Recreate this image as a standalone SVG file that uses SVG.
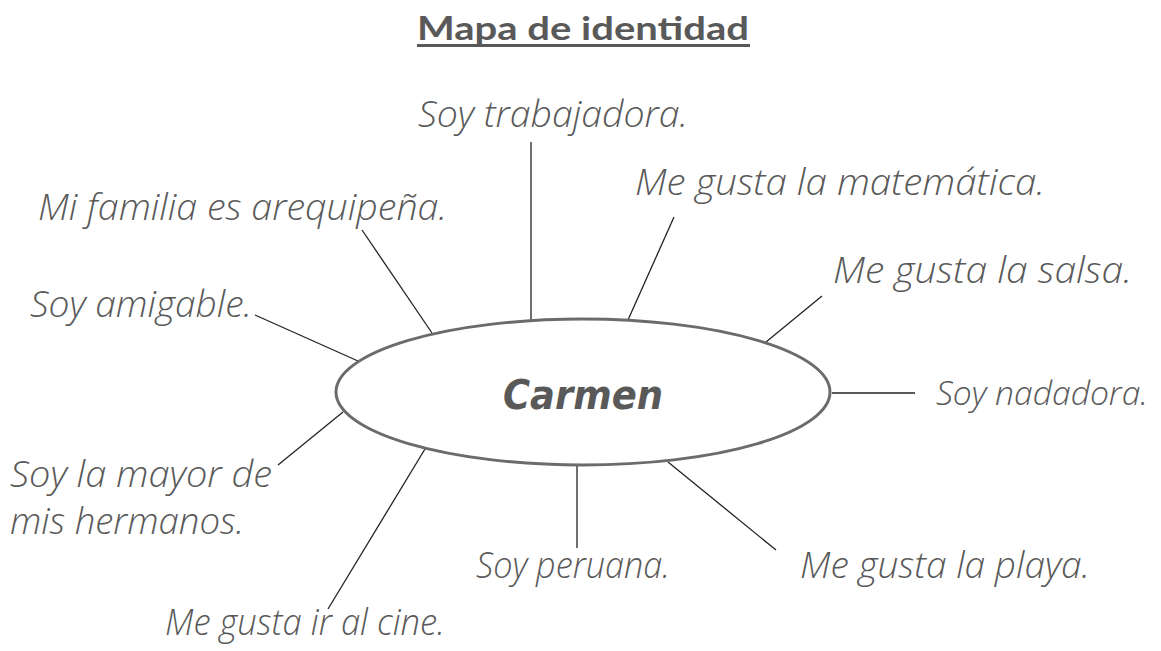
<svg xmlns="http://www.w3.org/2000/svg" width="1161" height="651" viewBox="0 0 1161 651">
<style>
.lbl{font-family:"Open Sans","Liberation Sans",sans-serif;font-style:italic;font-weight:300;font-size:37px;fill:#595959}
.ln{stroke:#222;stroke-width:1.3;fill:none}
</style>
<rect width="1161" height="651" fill="#fff"/>
<g id="title">
<text x="583" y="40" text-anchor="middle" font-family="Lato, Open Sans, sans-serif" font-weight="700" font-size="33" fill="#595959" textLength="332" lengthAdjust="spacingAndGlyphs">Mapa de identidad</text>
<rect x="417" y="44" width="333" height="3" fill="#595959"/>
</g>
<g id="connectors">
<line class="ln" x1="531" y1="142" x2="531" y2="320"/>
<line class="ln" x1="674" y1="217" x2="628" y2="320"/>
<line class="ln" x1="362" y1="230" x2="432" y2="333"/>
<line class="ln" x1="255" y1="315" x2="358" y2="361"/>
<line class="ln" x1="822" y1="296" x2="766" y2="342"/>
<line class="ln" x1="832" y1="393" x2="915" y2="393"/>
<line class="ln" x1="278" y1="465" x2="343" y2="412"/>
<line class="ln" x1="328" y1="609" x2="425" y2="449"/>
<line class="ln" x1="577" y1="466" x2="577" y2="548"/>
<line class="ln" x1="668" y1="462" x2="776" y2="550"/>
</g>
<g id="carmen">
<ellipse cx="583" cy="392" rx="247" ry="73" fill="#fff" stroke="#6b6b6b" stroke-width="3"/>
<text x="583" y="409" text-anchor="middle" font-family="DejaVu Sans, sans-serif" font-weight="700" font-style="oblique" font-size="40" fill="#595959" textLength="160" lengthAdjust="spacingAndGlyphs">Carmen</text>
</g>
<g id="n-trabajadora"><text class="lbl" x="418" y="127" textLength="270" lengthAdjust="spacingAndGlyphs">Soy trabajadora.</text></g>
<g id="n-matematica"><text class="lbl" x="635" y="195" textLength="410" lengthAdjust="spacingAndGlyphs">Me gusta la matemática.</text></g>
<g id="n-familia"><text class="lbl" x="38" y="220" textLength="409" lengthAdjust="spacingAndGlyphs">Mi familia es arequipeña.</text></g>
<g id="n-salsa"><text class="lbl" x="833" y="283" textLength="299" lengthAdjust="spacingAndGlyphs">Me gusta la salsa.</text></g>
<g id="n-amigable"><text class="lbl" x="30" y="317" textLength="222" lengthAdjust="spacingAndGlyphs">Soy amigable.</text></g>
<g id="n-nadadora"><text class="lbl" x="936" y="405" style="font-size:33px" textLength="212" lengthAdjust="spacingAndGlyphs">Soy nadadora.</text></g>
<g id="n-mayor"><text class="lbl" x="10" y="487" textLength="262" lengthAdjust="spacingAndGlyphs">Soy la mayor de</text><text class="lbl" x="10" y="534" textLength="234" lengthAdjust="spacingAndGlyphs">mis hermanos.</text></g>
<g id="n-peruana"><text class="lbl" x="476" y="578" textLength="194" lengthAdjust="spacingAndGlyphs">Soy peruana.</text></g>
<g id="n-playa"><text class="lbl" x="800" y="578" textLength="290" lengthAdjust="spacingAndGlyphs">Me gusta la playa.</text></g>
<g id="n-cine"><text class="lbl" x="165" y="635" textLength="280" lengthAdjust="spacingAndGlyphs">Me gusta ir al cine.</text></g>
</svg>
